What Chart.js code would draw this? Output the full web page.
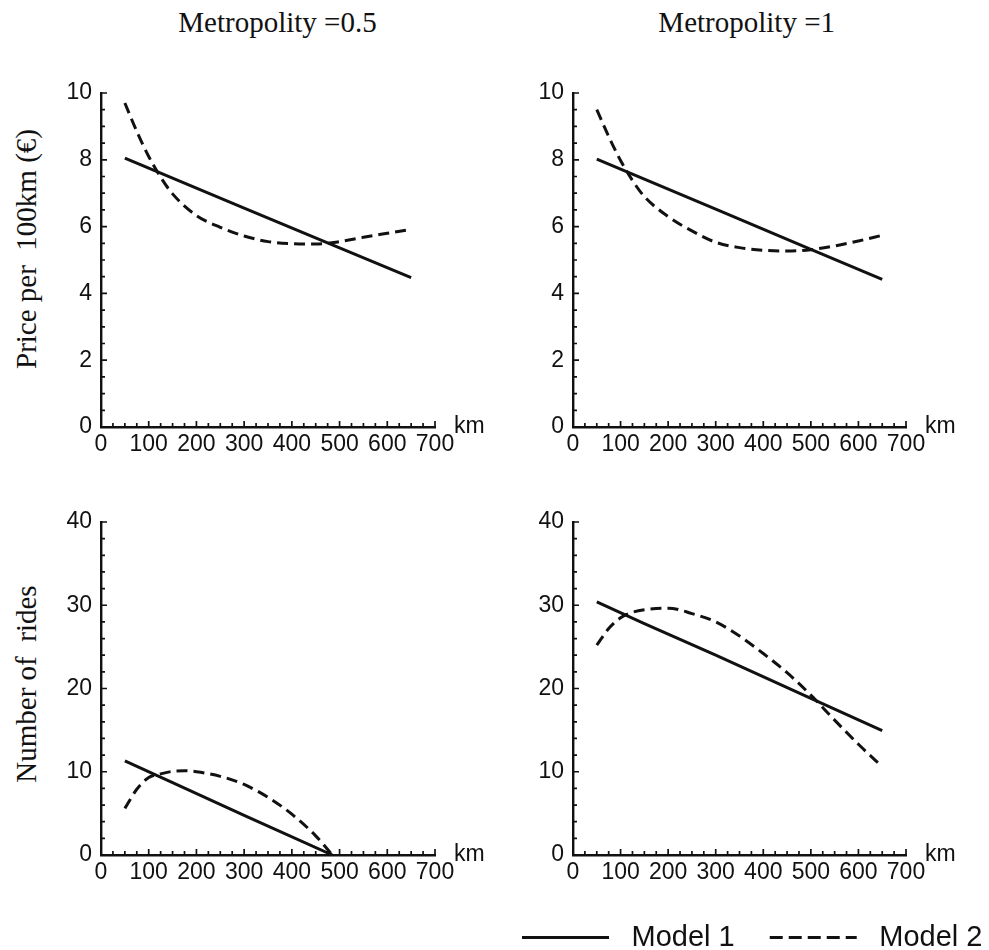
<!DOCTYPE html>
<html><head><meta charset="utf-8">
<script src="https://cdn.jsdelivr.net/npm/chart.js@4.4.1/dist/chart.umd.min.js"></script>
<style>
html,body{margin:0;padding:0;background:#fff;width:989px;height:950px;overflow:hidden;position:relative;}
canvas{position:absolute;}
.t{position:absolute;font-family:'Liberation Serif','Times New Roman',serif;font-size:29px;line-height:29px;color:#111;white-space:pre;transform:translate(-50%,-50%);}
.r{transform:translate(-50%,-50%) rotate(-90deg);}
</style></head><body>
<div class="t" id="colTitle0" style="left:277.5px;top:21.9px"></div>
<div class="t" id="colTitle1" style="left:746.7px;top:21.9px"></div>
<div class="t r" id="rowTitle0" style="left:26.3px;top:249px"></div>
<div class="t r" id="rowTitle1" style="left:26.3px;top:684px"></div>
<canvas id="cTL" width="500" height="420" style="left:0px;top:50px"></canvas>
<canvas id="cTR" width="509" height="420" style="left:480px;top:50px"></canvas>
<canvas id="cBL" width="500" height="420" style="left:0px;top:480px"></canvas>
<canvas id="cBR" width="509" height="420" style="left:480px;top:480px"></canvas>
<canvas id="cLeg" width="560" height="120" style="left:487px;top:888px"></canvas>
<script>
// ---------- text ----------
const columnTitles = ['Metropolity =0.5', 'Metropolity =1'];
const rowTitles = ['Price per  100km (€)', 'Number of  rides'];
const legendLabels = ['Model 1', 'Model 2'];
const unitLabel = 'km';

// ---------- tick values ----------
const kmTicks = [0, 100, 200, 300, 400, 500, 600, 700];
const priceTicks = [0, 2, 4, 6, 8, 10];
const ridesTicks = [0, 10, 20, 30, 40];

// ---------- series (km, value) ----------
// Model 1 (solid)
const km1 = [50, 150, 300, 500, 650];
const priceM1_05 = [8.05, 7.45, 6.55, 5.36, 4.47];
const priceM1_1  = [8.02, 7.42, 6.52, 5.32, 4.42];
const ridesM1_1  = [30.4, 27.8, 24.0, 18.8, 14.95];
const km1Rides05 = [50, 150, 300, 485];
const ridesM1_05 = [11.3, 8.7, 4.75, 0];

// Model 2 (dashed)
const km2 = [50, 75, 100, 125, 150, 200, 250, 300, 350, 400, 450, 500, 550, 600, 650];
const priceM2_05 = [9.7, 8.85, 8.1, 7.48, 6.98, 6.33, 5.98, 5.72, 5.55, 5.49, 5.48, 5.55, 5.68, 5.80, 5.92];
const priceM2_1  = [9.5, 8.7, 7.98, 7.38, 6.9, 6.3, 5.87, 5.53, 5.37, 5.29, 5.27, 5.31, 5.42, 5.57, 5.74];
const ridesM2_1  = [25.2, 27.2, 28.5, 29.15, 29.45, 29.65, 29.0, 28.0, 26.3, 24.2, 21.9, 19.2, 16.2, 13.3, 10.6];
const km2Rides05 = [50, 75, 100, 125, 150, 175, 200, 250, 300, 350, 400, 450, 485];
const ridesM2_05 = [5.6, 7.9, 9.3, 9.75, 10.05, 10.13, 10.0, 9.45, 8.47, 6.93, 4.9, 2.3, 0];

// ---------- rendering ----------
const INK = '#111111';
document.getElementById('colTitle0').textContent = columnTitles[0];
document.getElementById('colTitle1').textContent = columnTitles[1];
document.getElementById('rowTitle0').textContent = rowTitles[0];
document.getElementById('rowTitle1').textContent = rowTitles[1];

const zip = (xs, ys) => xs.map((x, i) => ({x: x, y: ys[i]}));

const inwardTicks = {
  id: 'inwardTicks',
  afterDraw(chart, args, o) {
    const ctx = chart.ctx, xs = chart.scales.x, ys = chart.scales.y;
    const axisY = ys.bottom, axisX = xs.left;
    ctx.save();
    ctx.strokeStyle = INK; ctx.lineWidth = 1.7;
    ctx.beginPath();
    const nx = Math.round((xs.max - xs.min) / o.xMinor);
    for (let i = 0; i <= nx; i++) {
      const v = xs.min + i * o.xMinor;
      const px = xs.getPixelForValue(v);
      const major = Math.abs(v / o.xMajor - Math.round(v / o.xMajor)) < 1e-6;
      ctx.moveTo(px, axisY); ctx.lineTo(px, axisY - (major ? 6 : 4));
    }
    const ny = Math.round((ys.max - ys.min) / o.yMinor);
    for (let i = 0; i <= ny; i++) {
      const v = ys.min + i * o.yMinor;
      const py = ys.getPixelForValue(v);
      const major = Math.abs(v / o.yMajor - Math.round(v / o.yMajor)) < 1e-6;
      ctx.moveTo(axisX, py); ctx.lineTo(axisX + (major ? 6 : 4), py);
    }
    ctx.stroke();
    ctx.fillStyle = INK;
    ctx.font = '23px "Liberation Sans", Arial, sans-serif';
    ctx.textBaseline = 'alphabetic'; ctx.textAlign = 'left';
    ctx.fillText(unitLabel, xs.right + 19, axisY + 6);
    ctx.restore();
  }
};

function panel(id, cfg) {
  const tickFont = {family: '"Liberation Sans", Arial, sans-serif', size: 23};
  new Chart(document.getElementById(id), {
    type: 'line',
    data: {
      datasets: [
        {label: legendLabels[0], data: zip(cfg.km1, cfg.m1), borderColor: INK, borderWidth: 3,
         pointRadius: 0, tension: 0, fill: false},
        {label: legendLabels[1], data: zip(cfg.km2, cfg.m2), borderColor: INK, borderWidth: 3,
         borderDash: [11, 6], pointRadius: 0, cubicInterpolationMode: 'monotone', fill: false}
      ]
    },
    options: {
      responsive: false, animation: false, events: [],
      layout: {padding: {top: cfg.padTop, right: cfg.padRight, left: 0, bottom: 0}},
      plugins: {legend: {display: false}, tooltip: {enabled: false},
        inwardTicks: {xMinor: 25, xMajor: 100, yMinor: cfg.yMinor, yMajor: cfg.yMajor}},
      scales: {
        x: {type: 'linear', min: 0, max: 700,
          afterBuildTicks: s => { s.ticks = kmTicks.map(v => ({value: v})); },
          ticks: {autoSkip: false, maxRotation: 0, padding: 4, color: INK, font: tickFont},
          grid: {display: false, drawTicks: false},
          border: {display: true, color: INK, width: 2.4},
          afterFit: s => { s.height = cfg.xH; }},
        y: {type: 'linear', min: 0, max: cfg.yTicks[cfg.yTicks.length - 1],
          afterBuildTicks: s => { s.ticks = cfg.yTicks.map(v => ({value: v})); },
          ticks: {autoSkip: false, padding: 9, color: INK, font: tickFont},
          grid: {display: false, drawTicks: false},
          border: {display: true, color: INK, width: 2.4},
          afterFit: s => { s.width = cfg.yW; }}
      }
    },
    plugins: [inwardTicks]
  });
}

panel('cTL', {km1: km1, m1: priceM1_05, km2: km2, m2: priceM2_05, yTicks: priceTicks, yMinor: 0.5, yMajor: 2,
  padTop: 43, padRight: 65, xH: 43, yW: 101});
panel('cTR', {km1: km1, m1: priceM1_1, km2: km2, m2: priceM2_1, yTicks: priceTicks, yMinor: 0.5, yMajor: 2,
  padTop: 43, padRight: 83, xH: 43, yW: 93});
panel('cBL', {km1: km1Rides05, m1: ridesM1_05, km2: km2Rides05, m2: ridesM2_05, yTicks: ridesTicks, yMinor: 2, yMajor: 10,
  padTop: 42, padRight: 65, xH: 45, yW: 101});
panel('cBR', {km1: km1, m1: ridesM1_1, km2: km2, m2: ridesM2_1, yTicks: ridesTicks, yMinor: 2, yMajor: 10,
  padTop: 42, padRight: 83, xH: 45, yW: 93});

// legend
new Chart(document.getElementById('cLeg'), {
  type: 'line',
  data: {datasets: legendLabels.map(l => ({label: l, data: []}))},
  options: {
    responsive: false, animation: false, events: [],
    layout: {padding: 0},
    scales: {x: {display: false}, y: {display: false}},
    plugins: {
      tooltip: {enabled: false},
      legend: {display: true, position: 'top', align: 'start',
        labels: {usePointStyle: true, pointStyleWidth: 87, padding: 35, color: INK,
          font: {family: '"Liberation Sans", Arial, sans-serif', size: 29},
          generateLabels: () => legendLabels.map((t, i) => ({
            text: ' ' + t, fillStyle: INK, strokeStyle: INK, fontColor: INK, lineWidth: 2.8,
            lineDash: i === 0 ? [] : [13, 6], lineCap: 'butt', pointStyle: 'line',
            hidden: false, datasetIndex: i}))
        }}
    }
  }
});
</script>
</body></html>
